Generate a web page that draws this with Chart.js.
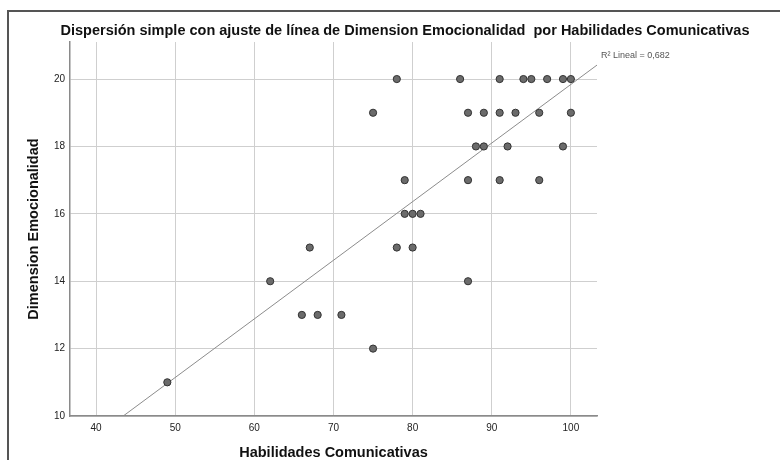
<!DOCTYPE html>
<html>
<head>
<meta charset="utf-8">
<script src="https://cdn.jsdelivr.net/npm/chart.js@4.4.0/dist/chart.umd.min.js"></script>
<style>
  html, body { margin: 0; padding: 0; background: #ffffff; }
  #wrap { width: 780px; height: 460px; position: relative; }
</style>
</head>
<body>
<div id="wrap"><canvas id="c" width="780" height="460"></canvas></div>
<script>
// ---- Data ----
const habilidades = [49, 62, 67, 66, 68, 71, 75, 75, 78, 78, 80, 79, 79, 80, 81, 86, 87, 87, 87, 88, 89, 89, 91, 91, 91, 92, 93, 94, 95, 96, 96, 97, 99, 99, 100, 100];
const emocionalidad = [11, 14, 15, 13, 13, 13, 12, 19, 20, 15, 15, 17, 16, 16, 16, 20, 19, 17, 14, 18, 18, 19, 20, 19, 17, 18, 19, 20, 20, 19, 17, 20, 20, 18, 20, 19];
const xTicks = [40, 50, 60, 70, 80, 90, 100];
const yTicks = [10, 12, 14, 16, 18, 20];
const xRange = [36.7, 103.3];
const yRange = [10, 21.1];
const titleText = 'Dispersión simple con ajuste de línea de Dimension Emocionalidad  por Habilidades Comunicativas';
const xTitle = 'Habilidades Comunicativas';
const yTitle = 'Dimension Emocionalidad';
const r2Label = 'R² Lineal = 0,682';

// ---- Least squares fit from the data ----
const n = habilidades.length;
const mx = habilidades.reduce((a, b) => a + b, 0) / n;
const my = emocionalidad.reduce((a, b) => a + b, 0) / n;
let sxy = 0, sxx = 0;
for (let i = 0; i < n; i++) {
  sxy += (habilidades[i] - mx) * (emocionalidad[i] - my);
  sxx += (habilidades[i] - mx) * (habilidades[i] - mx);
}
const slope = sxy / sxx;
const intercept = my - slope * mx;
const fitStartX = (yRange[0] - intercept) / slope;
const fitEndX = xRange[1];
const fitLine = [
  { x: fitStartX, y: intercept + slope * fitStartX },
  { x: fitEndX, y: intercept + slope * fitEndX }
];

const points = habilidades.map((x, i) => ({ x: x, y: emocionalidad[i] }));

const FONT = '"Liberation Sans", Arial, Helvetica, sans-serif';

const decorPlugin = {
  id: 'decor',
  beforeDraw(chart) {
    const ctx = chart.ctx;
    ctx.save();
    ctx.fillStyle = '#ffffff';
    ctx.fillRect(0, 0, chart.width, chart.height);
    ctx.restore();
  },
  afterDraw(chart) {
    const ctx = chart.ctx;
    const xs = chart.scales.x, ys = chart.scales.y;
    ctx.save();
    // outer frame
    ctx.strokeStyle = '#555555';
    ctx.lineWidth = 2;
    ctx.beginPath();
    ctx.moveTo(8, 470);
    ctx.lineTo(8, 11);
    ctx.lineTo(790, 11);
    ctx.stroke();
    // chart title
    ctx.fillStyle = '#111111';
    ctx.font = 'bold 14.5px ' + FONT;
    ctx.textAlign = 'center';
    ctx.textBaseline = 'middle';
    ctx.fillText(titleText, 405, 31);
    // R² label near end of fit line
    const ex = xs.getPixelForValue(fitLine[1].x);
    const ey = ys.getPixelForValue(fitLine[1].y);
    ctx.fillStyle = '#555555';
    ctx.font = '9px ' + FONT;
    ctx.textAlign = 'left';
    ctx.textBaseline = 'middle';
    ctx.fillText(r2Label, ex + 4, ey - 10);
    ctx.restore();
  }
};

new Chart(document.getElementById('c'), {
  type: 'scatter',
  data: {
    datasets: [
      {
        type: 'scatter',
        label: 'Datos',
        data: points,
        backgroundColor: '#6b6b6b',
        borderColor: '#333333',
        borderWidth: 1,
        pointRadius: 3.6,
        order: 1
      },
      {
        type: 'line',
        label: 'Ajuste',
        data: fitLine,
        borderColor: '#8c8c8c',
        borderWidth: 1,
        pointRadius: 0,
        fill: false,
        order: 2
      }
    ]
  },
  options: {
    responsive: false,
    animation: false,
    devicePixelRatio: 1,
    layout: { padding: { left: 8, right: 183, top: 42, bottom: 0 } },
    plugins: {
      legend: { display: false },
      tooltip: { enabled: false },
      title: { display: false }
    },
    scales: {
      x: {
        type: 'linear',
        min: xRange[0],
        max: xRange[1],
        afterFit(s) { s.height = 44; },
        afterBuildTicks(s) { s.ticks = xTicks.map(v => ({ value: v })); },
        ticks: {
          stepSize: 10,
          includeBounds: false,
          padding: 6,
          color: '#222222',
          font: { family: FONT, size: 10 }
        },
        grid: { color: '#cfcfcf', lineWidth: 1, drawTicks: false },
        border: { color: '#8a8a8a', width: 1.5 },
        title: {
          display: true,
          text: xTitle,
          color: '#111111',
          font: { family: FONT, size: 14.5, weight: 'bold', lineHeight: 1.0 },
          padding: { top: 0, bottom: 0 }
        }
      },
      y: {
        type: 'linear',
        min: yRange[0],
        max: yRange[1],
        afterFit(s) { s.width = 62; },
        afterBuildTicks(s) { s.ticks = yTicks.map(v => ({ value: v })); },
        ticks: {
          stepSize: 2,
          includeBounds: false,
          padding: 5,
          color: '#222222',
          font: { family: FONT, size: 10 }
        },
        grid: { color: '#cfcfcf', lineWidth: 1, drawTicks: false },
        border: { color: '#8a8a8a', width: 1.5 },
        title: {
          display: true,
          text: yTitle,
          color: '#111111',
          font: { family: FONT, size: 14.5, weight: 'bold', lineHeight: 1.2 },
          padding: { top: 17, bottom: 0 }
        }
      }
    }
  },
  plugins: [decorPlugin]
});
</script>
</body>
</html>
